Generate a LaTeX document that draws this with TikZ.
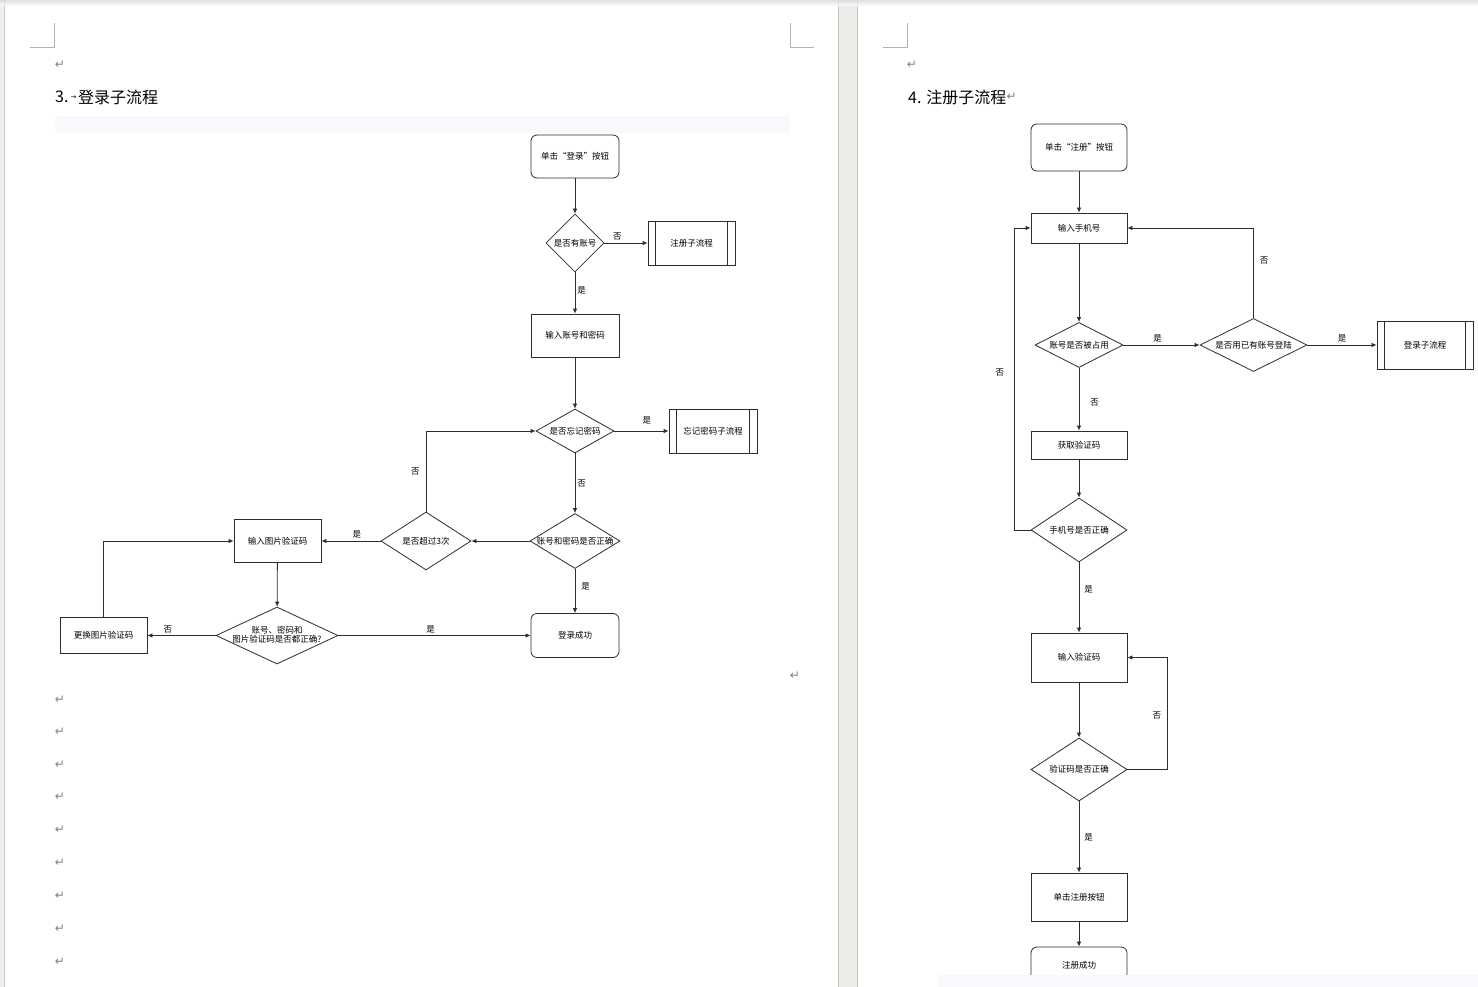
\documentclass[tikz,border=0pt]{standalone}
\usepackage{fontspec}
\setmainfont{Noto Sans CJK SC}
\newfontfamily\symfont{DejaVu Sans}
\usepackage{tikz}
\usetikzlibrary{shapes.geometric, arrows.meta, calc}
\definecolor{gapgrey}{RGB}{236,235,231}
\definecolor{bandblue}{RGB}{247,249,253}
\definecolor{linegrey}{RGB}{45,45,45}
\newcommand{\dtext}[1]{\makebox[0pt]{#1}}

\begin{document}
\begin{tikzpicture}[x=1pt, y=-1pt,
    proc/.style={rectangle, draw=linegrey, line width=0.8pt, inner sep=0pt,
                 minimum width=88pt, minimum height=43pt,
                 font=\fontsize{8.5}{10}\selectfont},
    term/.style={proc, rounded corners=6pt},
    decision/.style 2 args={diamond, draw=linegrey, line width=0.8pt, inner sep=0pt,
                 minimum width=#1, minimum height=#2,
                 font=\fontsize{8.5}{10}\selectfont},
    arrow/.style={-{Latex[length=5pt,width=4.5pt]}, line width=0.8pt, draw=linegrey},
    lbl/.style={font=\fontsize{8.5}{10}\selectfont, inner sep=2pt},
    retm/.style={font=\symfont\fontsize{12}{12}\selectfont, text=gray, inner sep=0pt},
    corner/.style={draw=gray!60, line width=0.8pt},
    heading/.style={font=\fontsize{16}{18}\selectfont, inner sep=0pt, anchor=west}
]
\useasboundingbox (0,0) rectangle (1478,987);

% word pages
\fill[white] (0,0) rectangle (1478,987);
\fill[gray!12] (0,0) rectangle (4,987);
\draw[gray!45, line width=0.8pt] (4,0) -- (4,987);
\fill[gapgrey] (838,0) rectangle (857,987);
\draw[gray!45, line width=0.8pt] (838,0) -- (838,987) (857,0) -- (857,987);
\shade[top color=gray!30, bottom color=white, opacity=.8] (0,0) rectangle (1478,6);
\fill[bandblue] (55,116) rectangle (790,133);

\draw[corner] (54,23) -- (54,47) -- (30,47);
\draw[corner] (790,23) -- (790,47) -- (814,47);
\draw[corner] (907,23) -- (907,47) -- (883,47);

\node[retm] (r1) at (60,65) {↵};
\node[retm] (r2) at (912,65) {↵};
\node[retm] (r3) at (795,676) {↵};
\foreach \y [count=\i] in {700,732,765,797,830,863,896,929,962}
    \node[retm] (rb\i) at (60,\y) {↵};

\node[heading] (h1) at (55,97) {3.};
\node[font=\symfont\fontsize{7}{7}\selectfont, inner sep=0pt] (h1tab) at (73.5,98) {→};
\node[heading] (h1t) at (78,97) {登录子流程};
\node[heading] (h2) at (908,97) {4. 注册子流程};
\node[retm, anchor=west] (h2r) at (h2.east) {↵};

% login sub-process
\node[term] (start1) at (575,156.5) {单击“登录”按钮};
\node[decision={58pt}{58pt}] (hasacc) at (575,243) {\dtext{是否有账号}};
\node[proc, minimum width=87pt, minimum height=44pt] (regsub) at (691.5,243) {注册子流程};
\node[proc] (inputacc) at (575,335.5) {输入账号和密码};
\node[decision={78pt}{44pt}] (forgot) at (575,431) {\dtext{是否忘记密码}};
\node[proc, minimum height=44pt] (forgetsub) at (713,431) {忘记密码子流程};
\node[decision={90pt}{55pt}] (check) at (575,541) {\dtext{账号和密码是否正确}};
\node[decision={90pt}{58pt}] (times) at (426,541) {\dtext{是否超过3次}};
\node[proc, minimum width=87pt] (imgcode) at (277.5,541) {输入图片验证码};
\node[decision={122pt}{57pt}] (allok) at (277,635.5)
    {\dtext{\begin{tabular}{@{}c@{}}账号、密码和\\[-1pt]图片验证码是否都正确?\end{tabular}}};
\node[proc, minimum width=87pt, minimum height=36pt] (refresh) at (103.5,635.5) {更换图片验证码};
\node[term, minimum height=44pt] (done1) at (575,635.5) {登录成功};

\draw[arrow] (start1) -- (hasacc);
\draw[arrow] (hasacc) -- node[lbl, above, pos=.3] {否} (regsub);
\draw[arrow] (hasacc) -- node[lbl, right, pos=.45] {是} (inputacc);
\draw[arrow] (inputacc) -- (forgot);
\draw[arrow] (forgot) -- node[lbl, above=4pt, pos=.6] {是} (forgetsub);
\draw[arrow] (forgot) -- node[lbl, right] {否} (check);
\draw[arrow] (check) -- (times);
\draw[arrow] (times.north) |- node[lbl, left=4pt, pos=.25] {否} (forgot.west);
\draw[arrow] (times) -- node[lbl, above, pos=.4] {是} (imgcode);
\draw[arrow] (imgcode) -- (allok);
\draw[arrow] (check) -- node[lbl, right=4pt, pos=.4] {是} (done1);
\draw[arrow] (allok) -- node[lbl, above, pos=.48] {是} (done1);
\draw[arrow] (allok) -- node[lbl, above, pos=.7] {否} (refresh);
\draw[arrow] (refresh.north) |- (imgcode.west);

% register sub-process
\begin{scope}[every node/.append style={font=\fontsize{9.5}{11}\selectfont}]
\node[term, minimum width=96pt, minimum height=47pt] (start2) at (1079,147.5) {单击“注册”按钮};
\node[proc, minimum width=96pt, minimum height=30pt] (phone) at (1079,228) {输入手机号};
\node[decision={88pt}{45pt}] (occupied) at (1079,345) {\dtext{账号是否被占用}};
\node[decision={107pt}{53pt}] (useexist) at (1253.5,345) {\dtext{是否用已有账号登陆}};
\node[proc, minimum width=96pt, minimum height=48pt] (loginsub) at (1425,345) {登录子流程};
\node[proc, minimum width=96pt, minimum height=28pt] (getcode) at (1079,445) {获取验证码};
\node[decision={96pt}{64pt}] (phoneok) at (1079,530) {\dtext{手机号是否正确}};
\node[proc, minimum width=96pt, minimum height=49pt] (inputcode) at (1079,657.5) {输入验证码};
\node[decision={96pt}{63pt}] (codeok) at (1079,769.5) {\dtext{验证码是否正确}};
\node[proc, minimum width=96pt, minimum height=48pt] (regbtn) at (1079,897) {单击注册按钮};
\node[term, minimum width=96pt, minimum height=40pt] (done2) at (1079,967) {\raisebox{5pt}{注册成功}};
\end{scope}

\draw[arrow] (start2) -- (phone);
\draw[arrow] (phone) -- (occupied);
\draw[arrow] (occupied) -- node[lbl, above, pos=.45] {是} (useexist);
\draw[arrow] (useexist) -- node[lbl, above, pos=.5] {是} (loginsub);
\draw[arrow] (useexist.north) |- node[lbl, right=4pt, pos=.32] {否} (phone.east);
\draw[arrow] (occupied) -- node[lbl, right=9pt, pos=.55] {否} (getcode);
\draw[arrow] (getcode) -- (phoneok);
\draw[arrow] (phoneok.west) -- ++(-16,0) |- node[lbl, left=8pt, pos=.26] {否} (phone.west);
\draw[arrow] (phoneok) -- node[lbl, right=3pt, pos=.38] {是} (inputcode);
\draw[arrow] (inputcode) -- (codeok);
\draw[arrow] (codeok.east) -- ++(40,0) |- node[lbl, left=4pt, pos=.24] {否} (inputcode.east);
\draw[arrow] (codeok) -- node[lbl, right=3pt] {是} (regbtn);
\draw[arrow] (regbtn) -- (done2);

% double side lines of the sub-process boxes
\foreach \n in {regsub, forgetsub, loginsub}
    \draw[linegrey, line width=0.8pt]
        ([xshift=8pt]\n.north west) -- ([xshift=8pt]\n.south west)
        ([xshift=-8pt]\n.north east) -- ([xshift=-8pt]\n.south east);

\fill[bandblue] (937,975) rectangle (1478,987);
\end{tikzpicture}
\end{document}
